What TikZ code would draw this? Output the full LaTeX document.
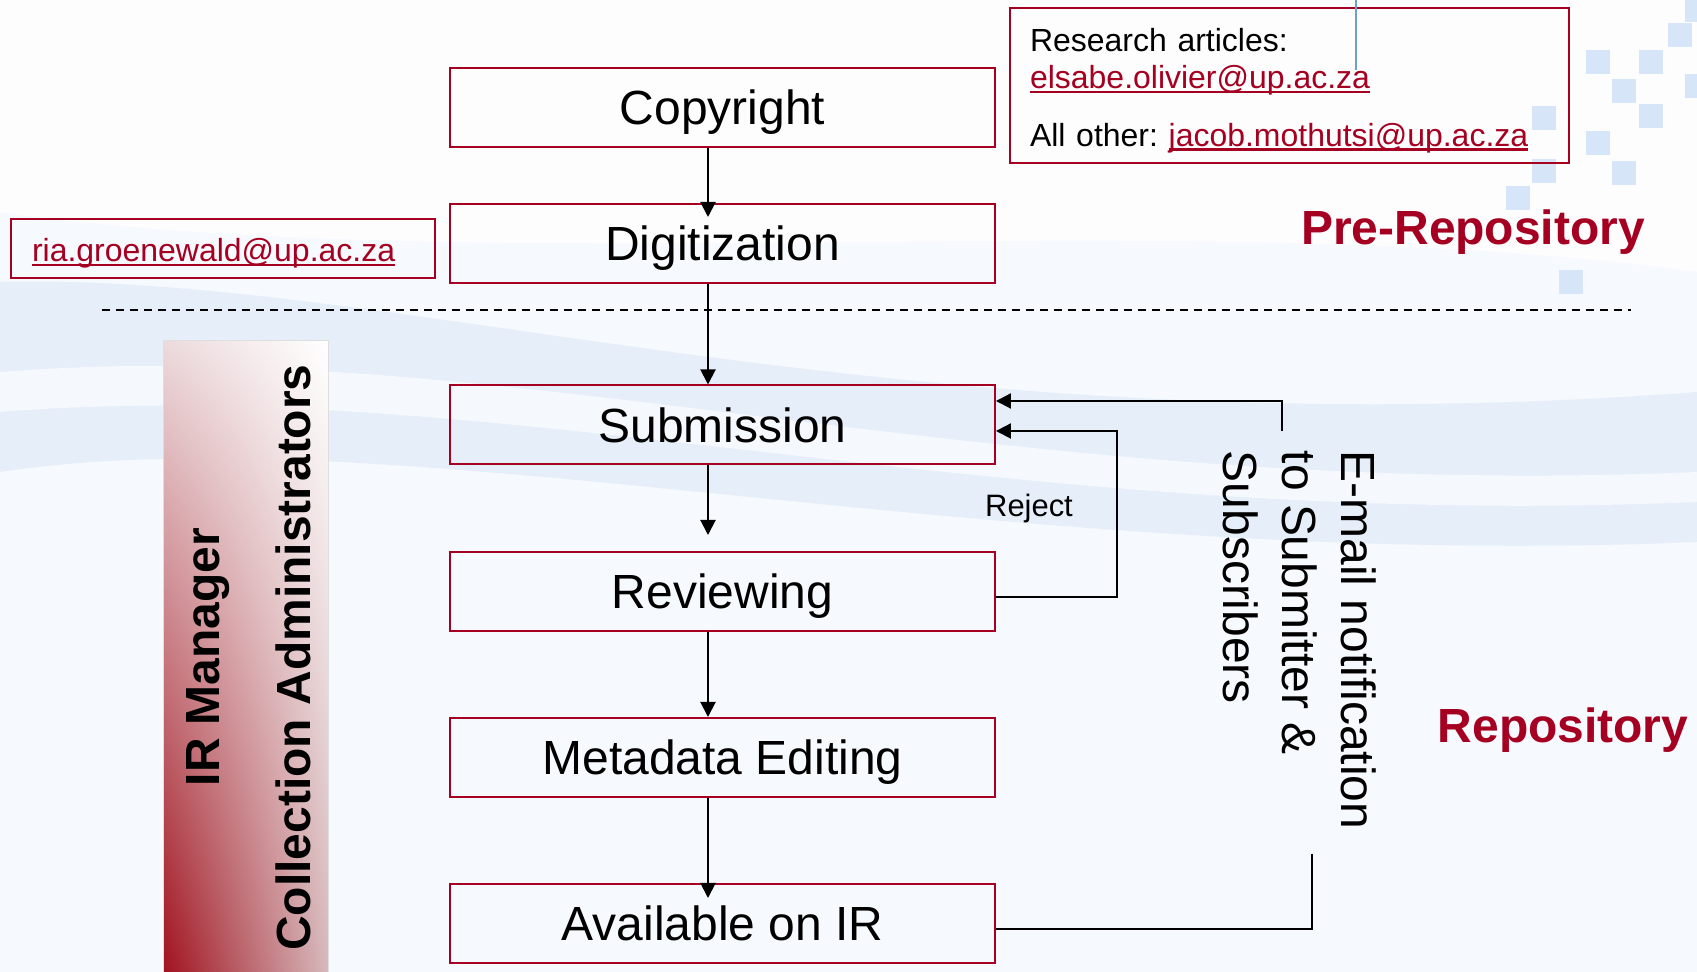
\documentclass[tikz,border=0pt]{standalone}
\usepackage{fontspec}
\setmainfont{Liberation Sans}
\usetikzlibrary{arrows.meta,shadings}
\definecolor{upred}{RGB}{165,0,33}
\definecolor{bgblue}{RGB}{246,249,253}
\definecolor{waveblue}{RGB}{226,236,249}
\definecolor{tileblue}{RGB}{214,230,248}
\definecolor{guideblue}{RGB}{110,160,205}
\definecolor{bargrey}{RGB}{222,222,222}
\definecolor{bardark}{RGB}{160,18,30}
\definecolor{barpale}{RGB}{236,218,220}
\definecolor{barpink}{RGB}{214,184,187}
\newcommand{\maillink}[1]{\leavevmode{\color{upred}\setbox0\hbox{#1}\rlap{\rule[-0.14em]{\wd0}{1.3pt}}\box0}}
\begin{document}
\begin{tikzpicture}[x=0.02cm, y=0.02cm, line width=0.04cm,
    stepbox/.style={draw=upred, minimum width=10.9cm, minimum height=1.58cm, inner sep=0pt,
      text height=19.5pt, text depth=0pt, font=\fontsize{27.3}{33}\selectfont},
    infobox/.style={draw=upred, align=left, inner ysep=0pt,
      font=\fontsize{18.2}{21.6}\selectfont\frenchspacing},
    region/.style={text=upred, anchor=base, font=\fontsize{27.3}{33}\selectfont\bfseries},
    sidelabel/.style={rotate=90, font=\fontsize{27.3}{33}\selectfont\bfseries},
    flow/.style={-{Triangle[length=0.3cm,width=0.3cm]}}]
  \useasboundingbox (0,0) rectangle (1697,972);
  % el fondo de la diapositiva
  \fill[bgblue] (0,0) rectangle (1697,972);
  \fill[white, opacity=.8] (0,972) -- (1697,972) -- (1697,700)
    .. controls (1200,770) and (500,690) .. (0,760) -- cycle;
  \fill[waveblue, opacity=.8] (0,690) .. controls (400,700) and (900,520) .. (1697,580)
    -- (1697,430) .. controls (1000,400) and (400,560) .. (0,500) -- cycle;
  \fill[white, opacity=.6] (0,600) .. controls (500,640) and (1000,470) .. (1697,500)
    -- (1697,470) .. controls (1000,440) and (500,600) .. (0,560) -- cycle;
  \foreach \p in {(1680,937), (1598,910), (1651,910), (1624,881), (1544,854), (1651,856),
                  (1598,829), (1544,801), (1624,799), (1518,774), (1571,690), (1697,962),
                  (1697,886)} {
    \fill[tileblue] \p ++(-12,-12) rectangle ++(24,24);
  }
  % la barra de los responsables
  \shade[lower left=bardark, upper left=barpale, lower right=barpink, upper right=white]
    (163,0) rectangle (328,631);
  \draw[bargrey, line width=0.02cm] (163,0) -- (163,631) -- (328,631) -- (328,0);
  \node[sidelabel] (irman) at (208,315) {IR Manager};
  \node[sidelabel] (colladm) at (293,314.5) {Collection Administrators};
  % la separacion entre las dos fases
  \draw[dash pattern=on 0.16cm off 0.12cm] (102,662) -- (1631,662);
  \node[region] (pre) at (1473,727) {Pre-Repository};
  \node[region] (repo) at (1563,229) {Repository};
  % los pasos, de arriba abajo
  \node[stepbox] (copy) at (722.5,864.5) {Copyright};
  \node[stepbox] (digi) at (722.5,728.5) {Digitization};
  \node[stepbox] (sub) at (722.5,547) {Submission};
  \node[stepbox] (rev) at (722.5,380.5) {Reviewing};
  \node[stepbox] (meta) at (722.5,214.5) {Metadata Editing};
  \node[stepbox] (avail) at (722.5,48.5) {Available on IR};
  \coordinate (axis) at (708,0);
  \draw[flow, shorten >=-0.28cm] (copy.south -| axis) -- (digi.north -| axis);
  \draw[flow] (digi.south -| axis) -- (sub.north -| axis);
  \draw[flow, shorten >=0.32cm] (sub.south -| axis) -- (rev.north -| axis);
  \draw[flow] (rev.south -| axis) -- (meta.north -| axis);
  \draw[flow, shorten >=-0.3cm] (meta.south -| axis) -- (avail.north -| axis);
  % los contactos
  \node[infobox, text width=7.64cm, inner xsep=0.42cm, minimum height=1.18cm,
        text height=18.8pt, text depth=3.8pt] (ria) at (223,723.5)
    {\maillink{ria.groenewald@up.ac.za}};
  \node[infobox, text width=10.38cm, inner xsep=0.4cm, minimum height=3.1cm,
        text height=18.8pt, text depth=58pt] (contact) at (1289.5,886.5)
    {Research articles:\\ \maillink{elsabe.olivier@up.ac.za}\\[11pt]
     All other: \maillink{jacob.mothutsi@up.ac.za}};
  \draw[guideblue, line width=0.03cm] (1356,972) -- (1356,902);
  % el rechazo y el aviso por correo
  \draw[flow] ([yshift=-0.11cm]rev.east) -- ++(121,0) |- ([yshift=-0.12cm]sub.east);
  \node[anchor=base, font=\fontsize{17.6}{21}\selectfont] (reject) at (1029,455) {Reject};
  \node[rotate=-90, align=left, inner sep=0pt, font=\fontsize{27.3}{33.6}\selectfont] (mailnote)
    at (1300,332) {E-mail notification\\to Submitter \&\\Subscribers};
  \coordinate (notetop) at (1282,541);
  \coordinate (notebot) at (1312,118);
  \draw[flow] (notetop) |- ([yshift=0.48cm]sub.east);
  \draw (notebot) |- ([yshift=-0.11cm]avail.east);
\end{tikzpicture}
\end{document}
